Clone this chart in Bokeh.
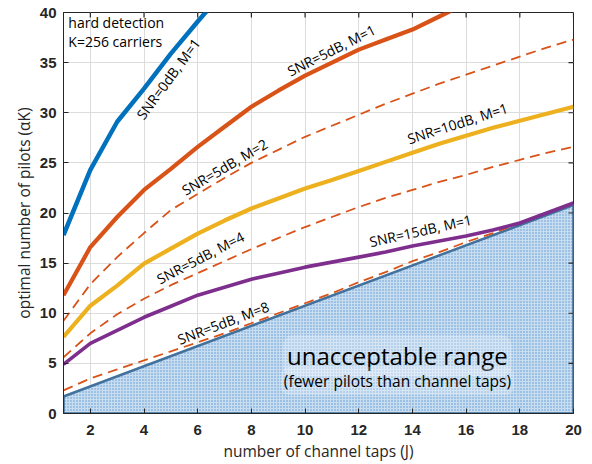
from bokeh.plotting import figure
from bokeh.models import FixedTicker, Range1d
from bokeh.core.properties import value
from bokeh.embed import file_html
from bokeh.resources import INLINE

# ---------------- data ----------------
J = list(range(1, 21))

snr0_m1 = [17.8, 24.3, 29.1, 32.4, 35.9, 39.1, 42.2]            # J = 1..7 (clipped at 40)
snr5_m1 = [11.8, 16.6, 19.6, 22.3, 24.4, 26.6, 28.6, 30.6, 32.2, 33.7,
           35.0, 36.3, 37.3, 38.3, 39.6, 40.9]                   # J = 1..16
snr5_m2 = [9.25, 12.9, 15.6, 18.0, 20.3, 21.9, 23.5, 25.0, 26.3, 27.6,
           28.7, 29.8, 30.9, 31.9, 32.9, 33.8, 34.7, 35.6, 36.5, 37.3]
snr10_m1 = [7.65, 10.75, 12.75, 14.95, 16.45, 17.95, 19.25, 20.45, 21.45, 22.45,
            23.3, 24.2, 25.1, 26.0, 26.9, 27.7, 28.5, 29.2, 29.9, 30.6]
snr5_m4 = [5.6, 8.0, 9.9, 11.45, 12.8, 14.0, 15.2, 16.4, 17.5, 18.6,
           19.6, 20.6, 21.5, 22.3, 23.1, 23.8, 24.6, 25.3, 26.0, 26.6]
snr15_m1 = [4.9, 7.0, 8.3, 9.6, 10.7, 11.8, 12.6, 13.4, 14.0, 14.6,
            15.1, 15.6, 16.1, 16.7, 17.2, 17.7, 18.3, 19.0, 20.0, 21.0]
snr5_m8 = [2.3, 3.5, 4.4, 5.3, 6.2, 7.1, 8.0, 9.0, 10.0, 11.0,
           12.0, 13.1, 14.1, 15.2, 16.1, 17.1, 18.0, 19.0, 20.0, 20.9]

region_x = [1, 1, 20, 20]
region_y = [0, 1.7, 20.8, 0]

X_MIN, X_MAX = 1, 20
Y_MIN, Y_MAX = 0, 40
x_ticks = [2, 4, 6, 8, 10, 12, 14, 16, 18, 20]
y_ticks = [0, 5, 10, 15, 20, 25, 30, 35, 40]

curve_labels = ["SNR=0dB, M=1", "SNR=5dB, M=1", "SNR=5dB, M=2", "SNR=10dB, M=1",
                "SNR=5dB, M=4", "SNR=15dB, M=1", "SNR=5dB, M=8"]
label_x = [4.9, 10.98, 7.0, 15.68, 6.1, 14.3, 6.95]
label_y = [33.4, 36.25, 24.6, 28.95, 15.55, 18.25, 9.05]
label_angle = [53.5, 26.8, 30.5, 17.7, 27.6, 12.5, 20.7]

BLUE = "#0072BD"
ORANGE = "#D95319"
YELLOW = "#EDB120"
PURPLE = "#7E2F8E"
FONT = "Open Sans"
AXIS_COLOR = "#262626"

# ---------------- figure ----------------
p = figure(width=592, height=464, x_range=Range1d(X_MIN, X_MAX), y_range=Range1d(Y_MIN, Y_MAX),
           output_backend="svg", toolbar_location=None,
           min_border_left=63, min_border_right=19, min_border_top=12, min_border_bottom=51)
p.background_fill_color = "white"
p.border_fill_color = "white"
p.outline_line_color = AXIS_COLOR
p.outline_line_width = 1

p.xgrid.ticker = FixedTicker(ticks=x_ticks)
p.ygrid.ticker = FixedTicker(ticks=y_ticks)
p.grid.grid_line_color = "#dcdcdc"
p.grid.grid_line_width = 1

for ax in p.xaxis:
    ax.ticker = FixedTicker(ticks=x_ticks)
    ax.major_label_standoff = 11
for ax in p.yaxis:
    ax.ticker = FixedTicker(ticks=y_ticks)
    ax.major_label_standoff = 7

for ax in list(p.xaxis) + list(p.yaxis):
    ax.major_tick_in = 5
    ax.major_tick_out = 0
    ax.minor_tick_line_color = None
    ax.axis_line_color = AXIS_COLOR
    ax.major_tick_line_color = AXIS_COLOR
    ax.major_label_text_font = "Liberation Sans"
    ax.major_label_text_font_style = "bold"
    ax.major_label_text_font_size = "15px"
    ax.major_label_text_color = AXIS_COLOR
    ax.axis_label_text_font = FONT
    ax.axis_label_text_font_style = "normal"
    ax.axis_label_text_font_size = "15.5px"
    ax.axis_label_text_color = AXIS_COLOR
    ax.axis_label_standoff = 2

p.xaxis.axis_label = "number of channel taps (J)"
p.yaxis.axis_label = "optimal number of pilots (αK)"

# unacceptable region
p.patch(region_x, region_y, fill_color="#bfd7ef", fill_alpha=0.85,
        hatch_pattern=".", hatch_color="#4f8fcf", hatch_alpha=0.9, hatch_scale=3, hatch_weight=1,
        line_color="#41719c", line_width=2.5)

# curves
p.line(J[:len(snr0_m1)], snr0_m1, line_color=BLUE, line_width=4.5)
p.line(J, snr5_m8, line_color=ORANGE, line_width=1.8, line_dash="10 6")
p.line(J, snr5_m4, line_color=ORANGE, line_width=1.8, line_dash="10 6")
p.line(J, snr5_m2, line_color=ORANGE, line_width=1.8, line_dash="10 6")
p.line(J[:len(snr5_m1)], snr5_m1, line_color=ORANGE, line_width=4.2)
p.line(J, snr10_m1, line_color=YELLOW, line_width=4.2)
p.line(J, snr15_m1, line_color=PURPLE, line_width=3.6)

# inward ticks on the top and right box edges
p.ray(x=x_ticks, y=[Y_MAX] * len(x_ticks), length=5, length_units="screen",
      angle=-90, angle_units="deg", line_color=AXIS_COLOR, line_width=1.2)
p.ray(x=[X_MAX] * len(y_ticks), y=y_ticks, length=5, length_units="screen",
      angle=180, angle_units="deg", line_color=AXIS_COLOR, line_width=1.2)

# curve labels
p.text(x=label_x, y=label_y, text=curve_labels, angle=label_angle, angle_units="deg",
       text_align="center", text_baseline="middle", text_font=value(FONT),
       text_font_size="14px", text_color="black")

p.text(x=[1.18, 1.18], y=[39.05, 37.15], text=["hard detection", "K=256 carriers"],
       text_align="left", text_baseline="middle", text_font=value(FONT),
       text_font_size="14px", text_color="black")

p.text(x=[13.44], y=[5.75], text=["unacceptable range"], text_align="center",
       text_baseline="middle", text_font=value(FONT), text_font_size="24px", text_color="black",
       background_fill_color="white", background_fill_alpha=0.25, padding=4, border_radius=10)
p.text(x=[13.44], y=[3.25], text=["(fewer pilots than channel taps)"], text_align="center",
       text_baseline="middle", text_font=value(FONT), text_font_size="15.5px", text_color="black",
       background_fill_color="white", background_fill_alpha=0.25, padding=3, border_radius=8)

open("out.html", "w").write(file_html(p, INLINE))
